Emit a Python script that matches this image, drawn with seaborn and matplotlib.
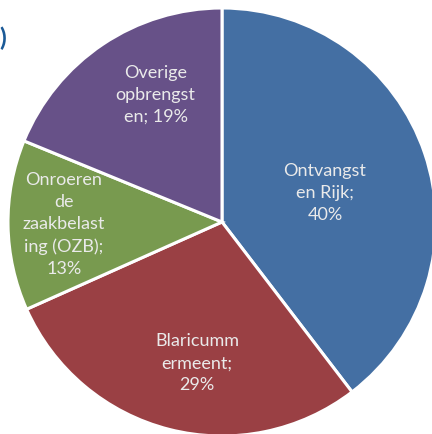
import matplotlib
matplotlib.use("Agg")
import matplotlib.pyplot as plt
import seaborn as sns
import numpy as np

sns.set_theme(style="white")
plt.rcParams['font.family'] = ['Lato', 'DejaVu Sans']

# Data
categories = ["Ontvangsten Rijk", "Blaricummermeent", "Onroerende zaakbelasting (OZB)", "Overige opbrengsten"]
percentages = [40, 29, 13, 19]
label_texts = ["Ontvangst\nen Rijk;\n40%",
               "Blaricumm\nermeent;\n29%",
               "Onroeren\nde\nzaakbelast\ning (OZB);\n13%",
               "Overige\nopbrengst\nen; 19%"]

colors = ["#446FA3", "#9A4044", "#789A4F", "#675188"]
# label placement (distance from centre, angle offset from wedge middle in degrees)
label_dist = [0.50, 0.67, 0.74, 0.67]
label_angle_offset = [-3.0, 4.3, 0.0, -6.3]

W, H = 432, 434
fig = plt.figure(figsize=(W / 100, H / 100), dpi=100)
ax = fig.add_axes([0, 0, 1, 1])
cx, cy, R = 222, 222, 214

wedges, _ = ax.pie(percentages, colors=colors, startangle=90, counterclock=False,
                   radius=1.0, center=(0, 0),
                   wedgeprops=dict(edgecolor="white", linewidth=2.2))

for w, txt, d, off in zip(wedges, label_texts, label_dist, label_angle_offset):
    mid = np.deg2rad((w.theta1 + w.theta2) / 2 + off)
    ax.text(d * np.cos(mid), d * np.sin(mid), txt, ha="center", va="center",
            color="#EAEAEA", fontsize=13, linespacing=1.45)

ax.set_xlim(-cx / R, (W - cx) / R)
ax.set_ylim(-(H - cy) / R, cy / R)
ax.set_aspect("auto")
ax.axis("off")

# partially cropped artifact at the top-left edge
fig.text(0.014, 1 - 38 / H, ")", color="#1B5A97", fontsize=18, fontweight="bold",
         ha="right", va="center")

fig.savefig("out.png", dpi=100, facecolor="white")
